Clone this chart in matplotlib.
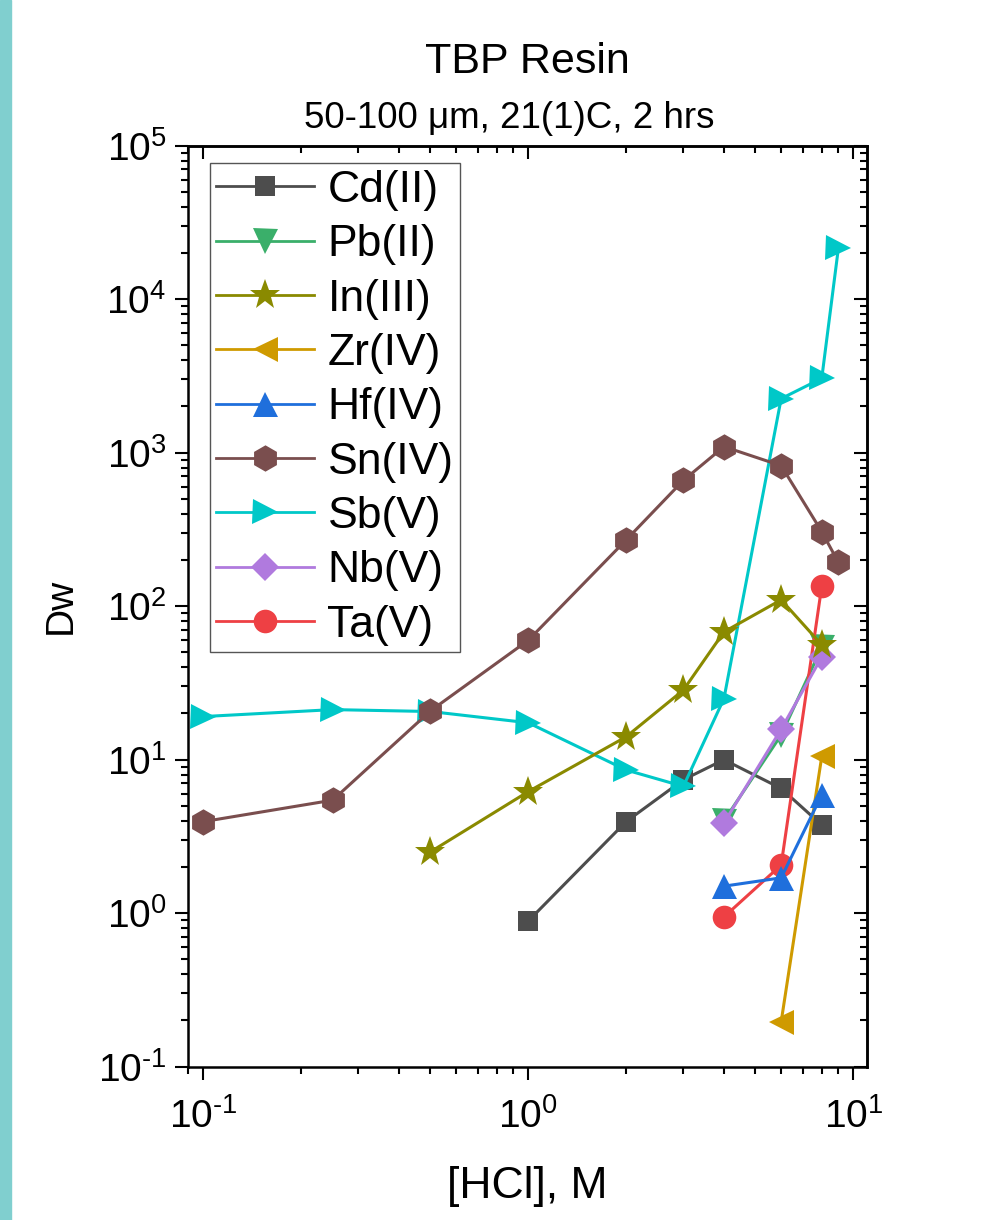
import numpy as np
import matplotlib
matplotlib.use('Agg')
import matplotlib.pyplot as plt
from matplotlib.patches import Rectangle
from matplotlib.ticker import LogLocator, NullFormatter, FuncFormatter

plt.rcParams['font.family'] = ['Liberation Sans', 'DejaVu Sans']
plt.rcParams['axes.unicode_minus'] = False
plt.rcParams['mathtext.fontset'] = 'custom'
plt.rcParams['mathtext.rm'] = 'Liberation Sans'
plt.rcParams['mathtext.it'] = 'Liberation Sans:italic'

# Dati: [HCl] (M) e Dw
hcl_cd = [1, 2, 3, 4, 6, 8]
dw_cd = [0.89, 3.95, 7.4, 10.0, 6.5, 3.75]

hcl_pb = [4, 6, 8]
dw_pb = [4.0, 14.5, 54]

hcl_in = [0.5, 1, 2, 3, 4, 6, 8]
dw_in = [2.51, 6.2, 14.1, 28.4, 68, 110, 56]

hcl_zr = [6, 8]
dw_zr = [0.196, 10.5]

hcl_hf = [4, 6, 8]
dw_hf = [1.5, 1.7, 5.9]

hcl_sn = [0.1, 0.25, 0.5, 1, 2, 3, 4, 6, 8, 9]
dw_sn = [3.95, 5.45, 20.8, 60, 270, 660, 1095, 823, 306, 193]

hcl_sb = [0.1, 0.25, 0.5, 1, 2, 3, 4, 6, 8, 9]
dw_sb = [19.1, 21.2, 20.6, 17.4, 8.57, 6.7, 25, 2250, 3050, 21500]

hcl_nb = [4, 6, 8]
dw_nb = [3.87, 15.8, 46.7]

hcl_ta = [4, 6, 8]
dw_ta = [0.945, 2.06, 135]

series = [
    ('Cd(II)', hcl_cd, dw_cd, '#4d4d4d', 's', 15, 3),
    ('Pb(II)', hcl_pb, dw_pb, '#3aaf6a', 'v', 18, 3),
    ('In(III)', hcl_in, dw_in, '#8a8a00', '*', 23, 6),
    ('Zr(IV)', hcl_zr, dw_zr, '#cf9a00', '<', 18, 3),
    ('Hf(IV)', hcl_hf, dw_hf, '#1f6fdc', '^', 18, 5),
    ('Sn(IV)', hcl_sn, dw_sn, '#7a4e4e', 'h', 19, 4),
    ('Sb(V)', hcl_sb, dw_sb, '#00c8c8', '>', 18, 3.5),
    ('Nb(V)', hcl_nb, dw_nb, '#b07ade', 'D', 14, 5),
    ('Ta(V)', hcl_ta, dw_ta, '#ee4044', 'o', 17, 4.5),
]


def pow10(v, pos):
    e = int(round(np.log10(v)))
    return r'$\mathdefault{10^{\text{%d}}}$' % e


fig = plt.figure(figsize=(9.94, 12.2), dpi=100)
ax = fig.add_axes([188 / 994, 1 - 1066.7 / 1220, (866.7 - 188) / 994, (1066.7 - 145.7) / 1220])

# barra verticale a sinistra
fig.patches.append(Rectangle((0, 0), 11 / 994, 1, transform=fig.transFigure,
                             color='#80cfcf', zorder=0))

for label, x, y, col, mk, ms, z in series:
    ax.plot(x, y, color=col, marker=mk, markersize=ms, linewidth=2.2,
            markeredgewidth=0, label=label, zorder=z)

ax.set_xscale('log')
ax.set_yscale('log')
ax.set_xlim(0.0897, 11)
ax.set_ylim(0.1, 1e5)

for side in ['left', 'right', 'top', 'bottom']:
    ax.spines[side].set_linewidth(1.8)

ax.xaxis.set_major_locator(LogLocator(base=10, numticks=20))
ax.xaxis.set_minor_locator(LogLocator(base=10, subs=np.arange(2, 10), numticks=20))
ax.yaxis.set_minor_locator(LogLocator(base=10, subs=np.arange(2, 10), numticks=20))
ax.yaxis.set_major_locator(LogLocator(base=10, numticks=20))
ax.xaxis.set_major_formatter(FuncFormatter(pow10))
ax.yaxis.set_major_formatter(FuncFormatter(pow10))
ax.xaxis.set_minor_formatter(NullFormatter())
ax.yaxis.set_minor_formatter(NullFormatter())
ax.tick_params(which='major', direction='out', length=9.5, width=1.5, labelsize=28, pad=6)
ax.tick_params(which='minor', direction='out', length=5, width=1.5)
ax.tick_params(axis='x', which='major', pad=13)

# assi secondari solo per i tick interni in alto e a destra
secx = ax.secondary_xaxis('top')
secx.xaxis.set_minor_locator(LogLocator(base=10, subs=np.arange(2, 10)))
secx.tick_params(which='major', direction='in', length=9.5, width=1.5, labeltop=False)
secx.tick_params(which='minor', direction='in', length=5, width=1.5)
secx.xaxis.set_minor_formatter(NullFormatter())
secy = ax.secondary_yaxis('right')
secy.yaxis.set_major_locator(LogLocator(base=10, numticks=20))
secy.yaxis.set_minor_locator(LogLocator(base=10, subs=np.arange(2, 10), numticks=20))
secy.tick_params(which='major', direction='in', length=9.5, width=1.5, labelright=False)
secy.tick_params(which='minor', direction='in', length=5, width=1.5)
secy.yaxis.set_minor_formatter(NullFormatter())
for s in secx.spines.values():
    s.set_linewidth(1.8)
for s in secy.spines.values():
    s.set_linewidth(1.8)

ax.set_xlabel('[HCl], M', fontsize=32, labelpad=22)
ax.set_ylabel('Dw', fontsize=28, labelpad=14)

fig.text(527 / 994, 1 - 62 / 1220, 'TBP Resin', ha='center', va='center', fontsize=31)
fig.text(509 / 994, 1 - 118 / 1220, '50-100 μm, 21(1)C, 2 hrs', ha='center', va='center', fontsize=26.5)

leg = ax.legend(loc='upper left', bbox_to_anchor=(0.032, 0.981), fontsize=32,
                handlelength=2.2, handletextpad=0.3, labelspacing=0.3,
                borderpad=0.15, borderaxespad=0, fancybox=False, framealpha=1,
                edgecolor='#555555')
leg.get_frame().set_linewidth(1.0)
for h in leg.legend_handles:
    h.set_linewidth(2.0)

fig.savefig('out.png', dpi=100)
